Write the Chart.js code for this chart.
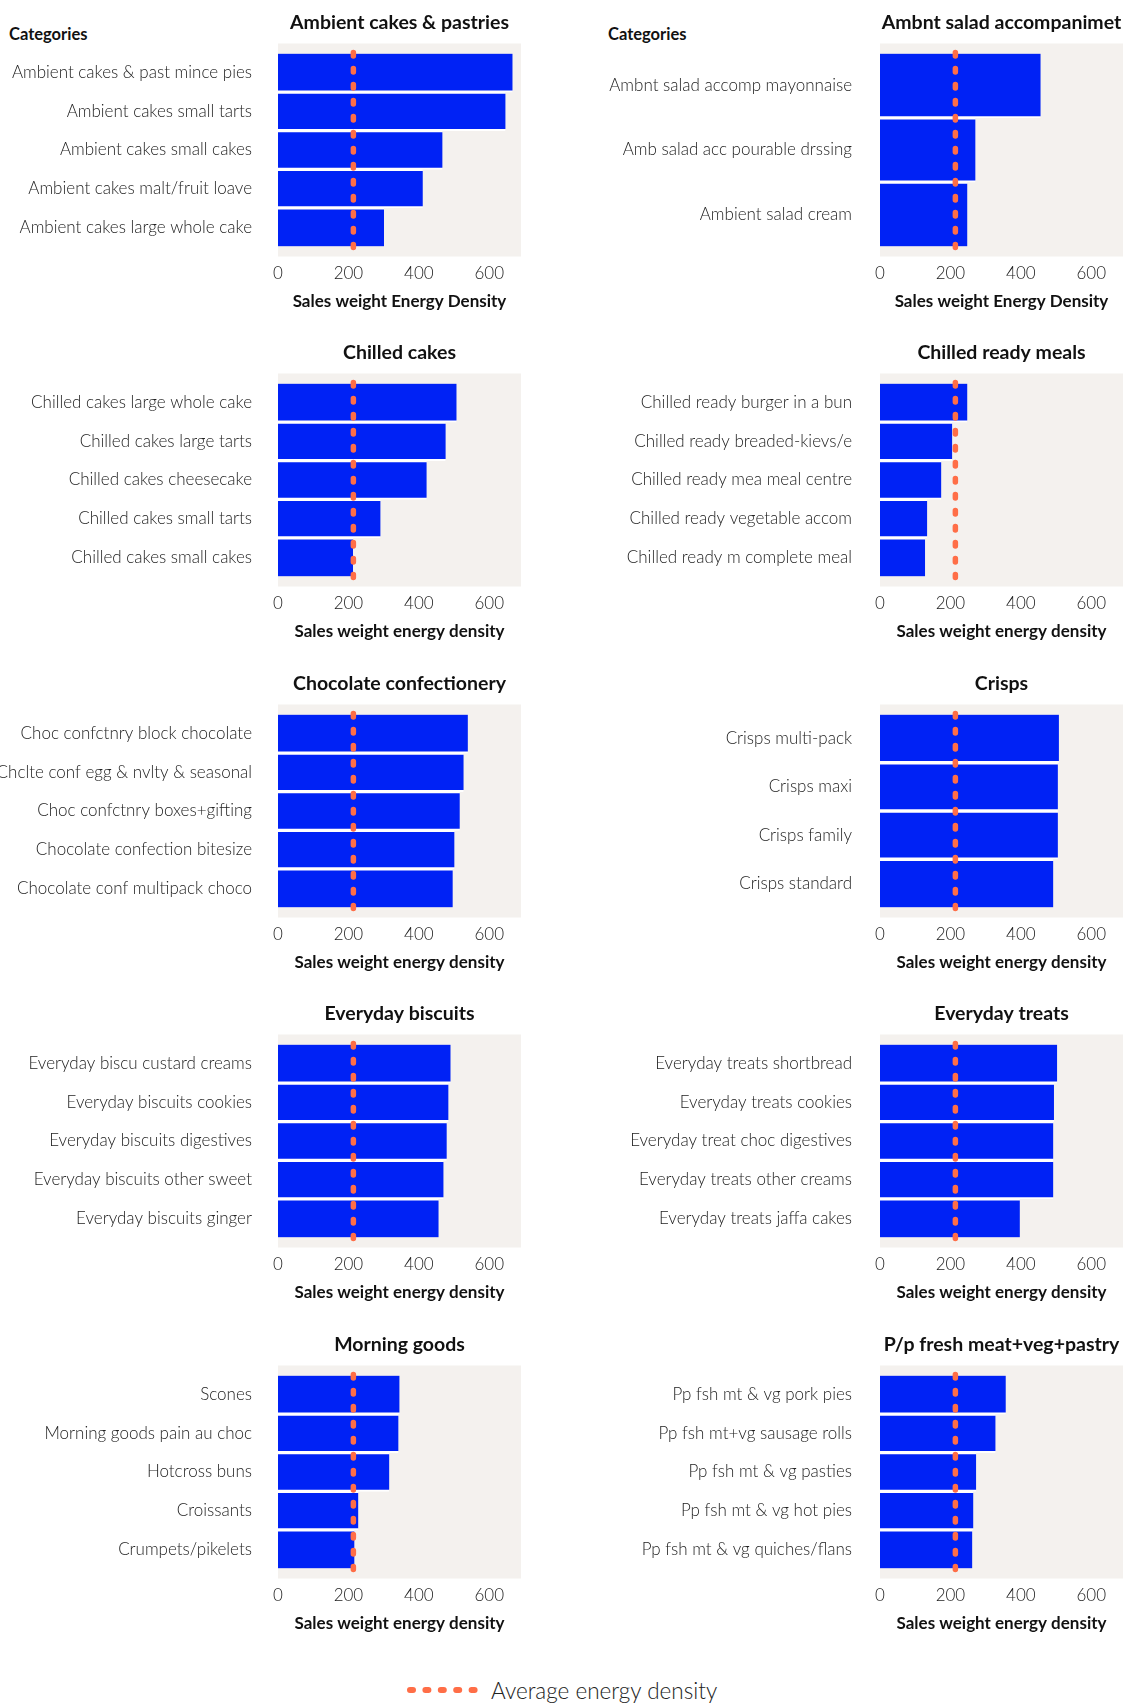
<!DOCTYPE html>
<html>
<head>
<meta charset="utf-8">
<title>Sales weight energy density by category</title>
<script src="https://cdn.jsdelivr.net/npm/chart.js@4.4.1/dist/chart.umd.min.js"></script>
<style>
  body { margin: 0; background: #fff; }
  #page { position: relative; width: 1127px; height: 1703px; overflow: hidden; }
  .panel { position: absolute; }
  .cat-head { position: absolute; top: 24px; font: 700 16.5px Lato, sans-serif; line-height: 20px; color: #111; }
  #legend { position: absolute; top: 1676px; left: 405px; height: 28px; display: flex; align-items: center; }
  #legend span { font: 300 22.5px Lato, sans-serif; color: #222; margin-left: 10px; }
</style>
</head>
<body>
<div id="page">
  <div class="cat-head" style="left:9px">Categories</div>
  <div class="cat-head" style="left:608px">Categories</div>
  <div id="legend"><canvas id="legendSwatch" width="76" height="28"></canvas><span>Average energy density</span></div>
</div>

<script>
// ---- data
const avgEnergyDensity = 214
const xTicks = [0, 200, 400, 600]
const xMax = 690

const ambientCakesCats = ['Ambient cakes & past mince pies', 'Ambient cakes small tarts', 'Ambient cakes small cakes', 'Ambient cakes malt/fruit loave', 'Ambient cakes large whole cake']
const ambientCakesValues = [666, 646, 467, 411, 301]

const saladCats = ['Ambnt salad accomp mayonnaise', 'Amb salad acc pourable drssing', 'Ambient salad cream']
const saladValues = [456, 271, 248]

const chilledCakesCats = ['Chilled cakes large whole cake', 'Chilled cakes large tarts', 'Chilled cakes cheesecake', 'Chilled cakes small tarts', 'Chilled cakes small cakes']
const chilledCakesValues = [507, 476, 422, 291, 213]

const readyMealsCats = ['Chilled ready burger in a bun', 'Chilled ready breaded-kievs/e', 'Chilled ready mea meal centre', 'Chilled ready vegetable accom', 'Chilled ready m complete meal']
const readyMealsValues = [248, 205, 174, 134, 128]

const chocolateCats = ['Choc confctnry block chocolate', 'Chclte conf egg & nvlty & seasonal', 'Choc confctnry boxes+gifting', 'Chocolate confection bitesize', 'Chocolate conf multipack choco']
const chocolateValues = [539, 527, 516, 501, 496]

const crispsCats = ['Crisps multi-pack', 'Crisps maxi', 'Crisps family', 'Crisps standard']
const crispsValues = [508, 505, 505, 492]

const biscuitsCats = ['Everyday biscu custard creams', 'Everyday biscuits cookies', 'Everyday biscuits digestives', 'Everyday biscuits other sweet', 'Everyday biscuits ginger']
const biscuitsValues = [490, 484, 479, 470, 456]

const treatsCats = ['Everyday treats shortbread', 'Everyday treats cookies', 'Everyday treat choc digestives', 'Everyday treats other creams', 'Everyday treats jaffa cakes']
const treatsValues = [503, 494, 492, 492, 397]

const morningCats = ['Scones', 'Morning goods pain au choc', 'Hotcross buns', 'Croissants', 'Crumpets/pikelets']
const morningValues = [345, 342, 316, 228, 217]

const pastryCats = ['Pp fsh mt & vg pork pies', 'Pp fsh mt+vg sausage rolls', 'Pp fsh mt & vg pasties', 'Pp fsh mt & vg hot pies', 'Pp fsh mt & vg quiches/flans']
const pastryValues = [357, 328, 273, 265, 262]

const panelTitles = ['Ambient cakes & pastries', 'Ambnt salad accompanimet', 'Chilled cakes', 'Chilled ready meals', 'Chocolate confectionery', 'Crisps', 'Everyday biscuits', 'Everyday treats', 'Morning goods', 'P/p fresh meat+veg+pastry']
const axisTitles = ['Sales weight Energy Density', 'Sales weight Energy Density', 'Sales weight energy density', 'Sales weight energy density', 'Sales weight energy density', 'Sales weight energy density', 'Sales weight energy density', 'Sales weight energy density', 'Sales weight energy density', 'Sales weight energy density']
const panelCats = [ambientCakesCats, saladCats, chilledCakesCats, readyMealsCats, chocolateCats, crispsCats, biscuitsCats, treatsCats, morningCats, pastryCats]
const panelValues = [ambientCakesValues, saladValues, chilledCakesValues, readyMealsValues, chocolateValues, crispsValues, biscuitsValues, treatsValues, morningValues, pastryValues]

// ---- colours
const BLUE = '#0022f5'
const ORANGE = '#ff6e47'
const PANEL_BG = '#f4f1ee'

Chart.defaults.font.family = 'Lato, sans-serif'
Chart.defaults.color = '#222'

// beige panel behind the bars, a little taller than the bar area
const panelBackground = {
  id: 'panelBackground',
  beforeDraw(chart) {
    const { ctx, chartArea: a } = chart
    ctx.save()
    ctx.fillStyle = PANEL_BG
    ctx.fillRect(a.left, a.top - 10, a.right - a.left, a.bottom - a.top + 20)
    ctx.restore()
  }
}

// dotted average line
const avgLine = {
  id: 'avgLine',
  afterDatasetsDraw(chart) {
    const { ctx, chartArea: a } = chart
    const x = chart.scales.x.getPixelForValue(avgEnergyDensity)
    ctx.save()
    ctx.strokeStyle = ORANGE
    ctx.lineWidth = 5.5
    ctx.lineCap = 'round'
    ctx.setLineDash([3.5, 12.5])
    ctx.beginPath()
    ctx.moveTo(x, a.top - 1)
    ctx.lineTo(x, a.bottom + 1)
    ctx.stroke()
    ctx.restore()
  }
}

const ROW_H = 330.4
const page = document.getElementById('page')

panelTitles.forEach((title, i) => {
  const col = i % 2
  const row = Math.floor(i / 2)
  const cats = panelCats[i]
  const n = cats.length

  const wrap = document.createElement('div')
  wrap.className = 'panel'
  wrap.style.left = (col ? 563 : 0) + 'px'
  wrap.style.top = (row * ROW_H) + 'px'
  const canvas = document.createElement('canvas')
  canvas.width = col ? 564 : 563
  canvas.height = 330
  wrap.appendChild(canvas)
  page.appendChild(wrap)

  new Chart(canvas, {
    type: 'bar',
    data: {
      labels: cats,
      datasets: [{
        label: title,
        data: panelValues[i],
        backgroundColor: BLUE,
        borderColor: '#fff',
        borderSkipped: false,
        // white gaps between bars only
        borderWidth: c => ({ top: c.dataIndex === 0 ? 0 : 2, bottom: c.dataIndex === n - 1 ? 0 : 2, left: 0, right: 0 }),
        barPercentage: 1,
        categoryPercentage: 1
      }]
    },
    options: {
      indexAxis: 'y',
      responsive: false,
      animation: false,
      layout: { padding: { top: 0, left: 0, right: col ? 4 : 42, bottom: 18.5 } },
      plugins: {
        legend: { display: false },
        tooltip: { enabled: false },
        title: {
          display: true,
          text: title,
          fullSize: false,
          color: '#111',
          font: { size: 19.5, weight: '700' },
          padding: { top: 10.6, bottom: 19.5 }
        }
      },
      scales: {
        x: {
          min: 0,
          max: xMax,
          grid: { display: false, drawTicks: false },
          border: { display: false },
          afterBuildTicks: scale => { scale.ticks = xTicks.map(v => ({ value: v })) },
          afterFit: scale => { scale.height = 65 },
          ticks: { padding: 16.7, color: '#222', font: { size: 17, weight: '300' } },
          title: {
            display: true,
            text: axisTitles[i],
            color: '#111',
            font: { size: 17, weight: '700' },
            padding: { top: 0, bottom: 0 }
          }
        },
        y: {
          grid: { display: false, drawTicks: false },
          border: { display: false },
          ticks: { padding: col ? 28 : 26, color: '#222', font: { size: 17, weight: '300' } },
          afterFit: scale => { scale.width = col ? 317 : 278 }
        }
      }
    },
    plugins: [panelBackground, avgLine]
  })
})

// legend swatch: same dotted style, laid horizontally
const lg = document.getElementById('legendSwatch').getContext('2d')
lg.strokeStyle = ORANGE
lg.lineWidth = 6
lg.lineCap = 'round'
lg.setLineDash([3, 12.4])
lg.beginPath()
lg.moveTo(5, 14)
lg.lineTo(76, 14)
lg.stroke()
</script>
</body>
</html>
